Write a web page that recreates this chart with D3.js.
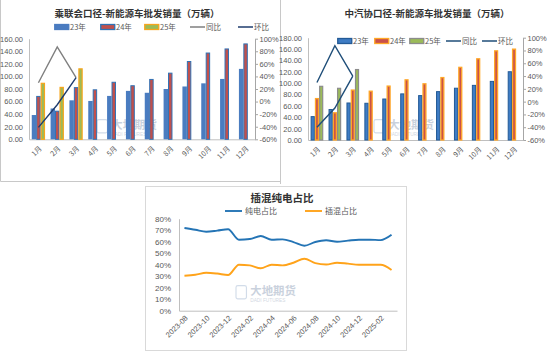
<!DOCTYPE html>
<html>
<head>
<meta charset="utf-8">
<script src="https://cdn.jsdelivr.net/npm/d3@7"></script>
<style>
body { margin: 0; background: #fff; }
svg { display: block; font-family: "Liberation Sans", "Noto Sans CJK SC", sans-serif; }
.cn { font-family: "Noto Sans CJK SC", sans-serif; }
</style>
</head>
<body>
<svg id="chart" width="550" height="352"></svg>
<script>
// 月份
const months = ['1月','2月','3月','4月','5月','6月','7月','8月','9月','10月','11月','12月'];

// 乘联会口径 (万辆)
const cpca23 = [38.6, 49, 62, 61, 69, 77, 74, 80, 84, 89, 96, 112];
const cpca24 = [69, 45.5, 83, 79.5, 91.5, 86, 96, 106, 124.5, 138, 144.5, 152.5];
const cpca25 = [90, 83.5, 113];
const cpcaYoy = [30, 87, 38];
const cpcaMom = [-41, -5, 38];

// 中汽协口径 (万辆)
const caam23 = [42, 54.5, 66, 65.5, 73, 82, 79, 86, 92, 97, 104, 121];
const caam24 = [74, 49, 89, 87, 96, 107, 100, 111, 129, 144, 158, 161];
const caam25 = [95.5, 92, 125];
const caamYoy = [30, 87.5, 40];
const caamMom = [-40, -10, 40];

// 插混纯电占比
const ratioMonths = ['2023-08','2023-09','2023-10','2023-11','2023-12','2024-01','2024-02','2024-03','2024-04','2024-05',
  '2024-06','2024-07','2024-08','2024-09','2024-10','2024-11','2024-12','2025-01','2025-02','2025-03'];
const bevShare  = [71.9, 70.4, 68.7, 69.6, 70.8, 61.7, 62.3, 65, 61.7, 62, 59.7, 56.5, 59.7, 61.2, 60, 60.9, 61.7, 61.7, 61.4, 66];
const phevShare = [30.4, 31.3, 33, 32.3, 31, 40, 39.4, 36.9, 40, 39.4, 41.7, 45.2, 41.4, 40.2, 41.7, 40.9, 40, 40, 40, 35.4];

const svg = d3.select('#chart');
const labelColor = '#595959';
const axisColor = '#bfbfbf';

// 边框
svg.append('path').attr('d', 'M0.5,0 V181.5 H280').attr('fill', 'none').attr('stroke', '#c8c8c8');
svg.append('path').attr('d', 'M280.5,0 V184').attr('fill', 'none').attr('stroke', '#c8c8c8');
svg.append('rect').attr('x', 145.5).attr('y', 186.5).attr('width', 261).attr('height', 164)
    .attr('fill', 'none').attr('stroke', '#d9d9d9');

function watermark(g, x, y, s) {
    const w = g.append('g').attr('transform', `translate(${x},${y}) scale(${s})`).attr('opacity', 0.45);
    w.append('rect').attr('x', 0).attr('y', -12).attr('width', 11).attr('height', 14).attr('rx', 2)
        .attr('fill', 'none').attr('stroke', '#9db3d0').attr('stroke-width', 1.2);
    w.append('text').attr('class', 'cn').attr('x', 15).attr('y', -2).attr('fill', '#8a9bb5')
        .style('font-size', '12px').style('font-weight', 'bold').text('大地期货');
    w.append('text').attr('x', 15).attr('y', 5).attr('fill', '#9aa8bd')
        .style('font-size', '5px').text('DADI FUTURES');
}

function drawSales(cfg) {
    const g = svg.append('g');

    // 标题
    g.append('text').attr('class', 'cn')
        .attr('x', cfg.titleX).attr('y', 17)
        .attr('text-anchor', 'middle')
        .style('font-size', '9.5px').style('font-weight', 'bold').attr('fill', '#333')
        .text(cfg.title);

    const x = d3.scaleBand().domain(months).range([cfg.left, cfg.right]);
    const sub = d3.scaleBand().domain(['23', '24', '25']).range([0, x.bandwidth()]).paddingOuter(0.62);
    const yL = d3.scaleLinear().domain([0, cfg.maxL]).range([cfg.bottom, cfg.top]);
    const yR = d3.scaleLinear().domain([-60, 100]).range([cfg.bottom, cfg.top]);

    watermark(g, cfg.wmX, cfg.wmY, 0.95);

    // 坐标轴
    const axL = g.append('g').attr('transform', `translate(${cfg.left},0)`)
        .call(d3.axisLeft(yL).tickValues(d3.range(0, cfg.maxL + 1, 20)).tickFormat(d3.format('.2f')).tickSize(0).tickPadding(6));
    axL.select('.domain').attr('stroke', axisColor);
    axL.selectAll('text').attr('fill', labelColor).style('font-size', '7.5px');

    const axR = g.append('g').attr('transform', `translate(${cfg.right},0)`)
        .call(d3.axisRight(yR).tickValues(d3.range(-60, 101, 20)).tickFormat(d => d + '%').tickSize(3).tickSizeOuter(0).tickPadding(1.5));
    axR.selectAll('path,line').attr('stroke', '#a6a6a6');
    axR.selectAll('text').attr('fill', labelColor).style('font-size', '7.5px');

    const axB = g.append('g').attr('transform', `translate(0,${cfg.bottom})`)
        .call(d3.axisBottom(x).tickSize(0).tickSizeOuter(0));
    axB.select('.domain').attr('stroke', axisColor);
    axB.selectAll('text').attr('class', 'cn').attr('y', 0).attr('dy', '0.35em')
        .attr('transform', 'translate(2,8) rotate(-45)').attr('text-anchor', 'end')
        .attr('fill', labelColor).style('font-size', '7px');

    // 柱子
    const series = [
        {key: '23', data: cfg.s23, st: cfg.style23},
        {key: '24', data: cfg.s24, st: cfg.style24},
        {key: '25', data: cfg.s25, st: cfg.style25}
    ];
    series.forEach(s => {
        g.append('g').selectAll('rect').data(s.data).enter().append('rect')
            .attr('x', (d, i) => x(months[i]) + sub(s.key) + s.st.sw / 2)
            .attr('y', d => yL(d) + s.st.sw / 2)
            .attr('width', sub.bandwidth() - s.st.sw)
            .attr('height', d => cfg.bottom - yL(d) - s.st.sw / 2)
            .attr('fill', s.st.fill)
            .attr('stroke', s.st.stroke)
            .attr('stroke-width', s.st.sw);
    });

    // 折线
    const line = d3.line()
        .x((d, i) => x(months[i]) + x.bandwidth() / 2)
        .y(d => yR(d));
    g.append('path').datum(cfg.yoy).attr('d', line).attr('fill', 'none')
        .attr('stroke', cfg.yoyColor).attr('stroke-width', 1.4);
    g.append('path').datum(cfg.mom).attr('d', line).attr('fill', 'none')
        .attr('stroke', cfg.momColor).attr('stroke-width', 1.4);

    // 图例
    const lg = g.append('g').attr('transform', `translate(0,${cfg.legendY})`);
    const items = [
        {name: '23年', type: 'bar', st: cfg.style23},
        {name: '24年', type: 'bar', st: cfg.style24},
        {name: '25年', type: 'bar', st: cfg.style25},
        {name: '同比', type: 'line', color: cfg.yoyColor},
        {name: '环比', type: 'line', color: cfg.momColor}
    ];
    items.forEach((it, i) => {
        const lx = cfg.legendX[i];
        if (it.type === 'bar') {
            lg.append('rect').attr('x', lx + 0.75).attr('y', -2.5).attr('width', 14).attr('height', 5)
                .attr('fill', it.st.fill).attr('stroke', it.st.legendStroke || it.st.stroke).attr('stroke-width', 1.3);
        } else {
            lg.append('line').attr('x1', lx).attr('x2', lx + 15).attr('y1', 0).attr('y2', 0)
                .attr('stroke', it.color).attr('stroke-width', 1.5);
        }
        lg.append('text').attr('class', 'cn').attr('x', lx + 16).attr('y', 0).attr('dy', '0.35em')
            .attr('fill', labelColor).style('font-size', '7.5px').text(it.name);
    });
}

drawSales({
    title: '乘联会口径-新能源车批发销量（万辆）', titleX: 137,
    left: 29, right: 255, top: 38.7, bottom: 139.3, maxL: 160,
    s23: cpca23, s24: cpca24, s25: cpca25, yoy: cpcaYoy, mom: cpcaMom,
    style23: {fill: '#4a7cc0', stroke: '#4a7cc0', sw: 0, legendStroke: '#4a7cc0'},
    style24: {fill: '#c0504d', stroke: '#2f72b5', sw: 1},
    style25: {fill: '#9bbb59', stroke: '#f7a51c', sw: 1.2},
    yoyColor: '#7f7f7f', momColor: '#1f3c6e',
    legendY: 27, legendX: [54, 100, 144, 190, 238],
    wmX: 97, wmY: 131
});

drawSales({
    title: '中汽协口径-新能源车批发销量（万辆）', titleX: 427,
    left: 308, right: 523, top: 37.7, bottom: 140, maxL: 180,
    s23: caam23, s24: caam24, s25: caam25, yoy: caamYoy, mom: caamMom,
    style23: {fill: '#3e7cc4', stroke: '#235a96', sw: 1},
    style24: {fill: '#c9504a', stroke: '#ffa726', sw: 1.3},
    style25: {fill: '#9bbb59', stroke: '#8c8c8c', sw: 1.2},
    yoyColor: '#1f4e79', momColor: '#1f4e79',
    legendY: 41, legendX: [337, 374, 409, 446, 482],
    wmX: 374, wmY: 131
});

// 插混纯电占比
(function () {
    const g = svg.append('g');
    const left = 179, right = 397, top = 218.7, bottom = 310.7;
    g.append('text').attr('class', 'cn').attr('x', 282).attr('y', 202)
        .attr('text-anchor', 'middle').style('font-size', '10.5px').style('font-weight', 'bold')
        .attr('fill', '#333').text('插混纯电占比');

    const x = d3.scaleBand().domain(ratioMonths).range([left, right]);
    const y = d3.scaleLinear().domain([0, 80]).range([bottom, top]);

    watermark(g, 236, 297, 0.95);

    const axL = g.append('g').attr('transform', `translate(${left},0)`)
        .call(d3.axisLeft(y).tickValues(d3.range(0, 81, 10)).tickFormat(d => d + '%').tickSize(0).tickPadding(8));
    axL.select('.domain').attr('stroke', axisColor);
    axL.selectAll('text').attr('fill', labelColor).style('font-size', '8px');

    const axB = g.append('g').attr('transform', `translate(0,${bottom})`)
        .call(d3.axisBottom(x).tickValues(ratioMonths.filter((d, i) => i % 2 === 0)).tickSize(0).tickSizeOuter(0));
    axB.select('.domain').attr('stroke', axisColor);
    axB.selectAll('text').attr('y', 0).attr('dy', '0.35em')
        .attr('transform', 'translate(2,6) rotate(-45)').attr('text-anchor', 'end')
        .attr('fill', labelColor).style('font-size', '7.5px');

    const line = d3.line()
        .x((d, i) => x(ratioMonths[i]) + x.bandwidth() / 2)
        .y(d => y(d))
        .curve(d3.curveMonotoneX);

    const series = [
        {name: '纯电占比', data: bevShare, color: '#2474b5', lx: 225},
        {name: '插混占比', data: phevShare, color: '#ffa31a', lx: 305}
    ];
    series.forEach(s => {
        g.append('path').datum(s.data).attr('d', line).attr('fill', 'none')
            .attr('stroke', s.color).attr('stroke-width', 1.9);
        g.append('line').attr('x1', s.lx).attr('x2', s.lx + 17).attr('y1', 211).attr('y2', 211)
            .attr('stroke', s.color).attr('stroke-width', 1.9);
        g.append('text').attr('class', 'cn').attr('x', s.lx + 20).attr('y', 211).attr('dy', '0.35em')
            .attr('fill', labelColor).style('font-size', '8px').text(s.name);
    });
})();
</script>
</body>
</html>
